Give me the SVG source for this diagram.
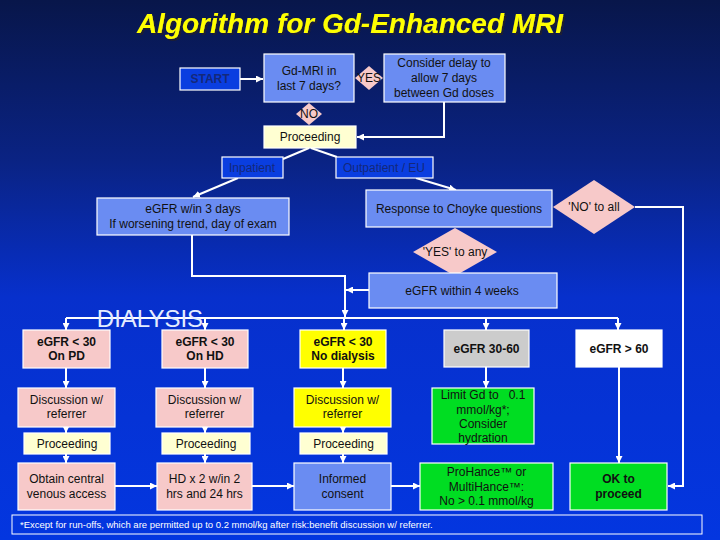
<svg xmlns="http://www.w3.org/2000/svg" width="720" height="540" viewBox="0 0 720 540">
<defs>
<linearGradient id="bg" x1="0" y1="0" x2="0" y2="1">
<stop offset="0" stop-color="#08164a"/>
<stop offset="0.3" stop-color="#0a2384"/>
<stop offset="0.55" stop-color="#0730cc"/>
<stop offset="1" stop-color="#0336e0"/>
</linearGradient>
<filter id="sh" x="-5%" y="-20%" width="110%" height="150%">
<feDropShadow dx="2" dy="2" stdDeviation="0.6" flood-color="#1a1a33" flood-opacity="0.9"/>
</filter>
<marker id="ah" viewBox="0 0 10 10" refX="10" refY="5" markerWidth="7" markerHeight="7" markerUnits="userSpaceOnUse" orient="auto">
<path d="M0,0 L10,5 L0,10 z" fill="#ffffff"/>
</marker>
<style>
text{font-family:"Liberation Sans",Arial,sans-serif;font-size:12px;fill:#111;text-anchor:middle;dominant-baseline:central}
.b{font-weight:bold}
.box{stroke:#ffffff;stroke-width:1.2}
.lb{fill:#6a8cf2}
.db{fill:#0a3ee0}
.pk{fill:#f7c9c9}
.yl{fill:#ffff00}
.cr{fill:#ffffd2}
.gr{fill:#00dd22}
.gy{fill:#cccccc}
.wh{fill:#ffffff}
.dm{fill:#f7c9c9;stroke:none}
.ln{fill:none;stroke:#ffffff;stroke-width:2}
.ar{marker-end:url(#ah)}
.dt{fill:#14287a}
</style>
</defs>
<rect width="720" height="540" fill="url(#bg)"/>
<text id="title" x="350" y="23" filter="url(#sh)" style="font-size:28px;font-weight:bold;font-style:italic;fill:#ffff00">Algorithm for Gd-Enhanced MRI</text>

<g id="connectors">
<path class="ln ar" d="M240,79 H263"/>
<path class="ln ar" d="M444,102 V137 H357"/>
<path class="ln" d="M309,148 L283,159"/>
<path class="ln" d="M311,148 L337,157"/>
<path class="ln ar" d="M238,178 L193,197"/>
<path class="ln ar" d="M416,178 L456,190"/>
<path class="ln ar" d="M635,207 H683 V486 H668"/>
<path class="ln ar" d="M369,290 H346"/>
<path class="ln ar" d="M192,235 V276 H345 V317"/>
<path class="ln" d="M66,318 H618"/>
<path class="ln ar" d="M66,318 V330"/>
<path class="ln ar" d="M205,318 V330"/>
<path class="ln ar" d="M344,318 V330"/>
<path class="ln ar" d="M486,318 V330"/>
<path class="ln ar" d="M618,318 V330"/>
<path class="ln ar" d="M66,368 V388"/>
<path class="ln ar" d="M66,427 V433"/>
<path class="ln ar" d="M66,454 V463"/>
<path class="ln ar" d="M205,368 V388"/>
<path class="ln ar" d="M205,427 V433"/>
<path class="ln ar" d="M205,454 V463"/>
<path class="ln ar" d="M343,368 V388"/>
<path class="ln ar" d="M343,427 V433"/>
<path class="ln ar" d="M343,454 V463"/>
<path class="ln ar" d="M486,367 V388"/>
<path class="ln ar" d="M619,367 V463"/>
<path class="ln ar" d="M115,486 H157"/>
<path class="ln ar" d="M252,486 H294"/>
<path class="ln ar" d="M391,486 H420"/>
</g>

<g id="start"><rect class="box db" x="180" y="68" width="60" height="22"/><text class="b dt" x="210" y="79">START</text></g>
<g id="gdmri"><rect class="box lb" x="264" y="54" width="90" height="48"/><text x="309" y="71">Gd-MRI in</text><text x="309" y="86">last 7 days?</text></g>
<g id="yes"><path class="dm" d="M369,66 L383,78 L369,90 L355,78 z"/><text x="369" y="78">YES</text></g>
<g id="delay"><rect class="box lb" x="384" y="54" width="121" height="48"/><text x="444" y="63">Consider delay to</text><text x="444" y="78">allow 7 days</text><text x="444" y="93">between Gd doses</text></g>
<g id="no"><path class="dm" d="M309,103 L322,114 L309,125 L296,114 z"/><text x="309" y="114">NO</text></g>
<g id="proceeding0"><rect class="box cr" x="264" y="126" width="92" height="22"/><text x="310" y="137">Proceeding</text></g>
<g id="inpatient"><rect class="box db" x="222" y="157" width="61" height="21"/><text class="dt" x="252" y="167.5">Inpatient</text></g>
<g id="outpatient"><rect class="box db" x="336" y="157" width="97" height="21"/><text class="dt" x="384" y="167.5">Outpatient / EU</text></g>
<g id="egfr3"><rect class="box lb" x="97" y="198" width="192" height="37"/><text x="193" y="209">eGFR w/in 3 days</text><text x="193" y="224">If worsening trend, day of exam</text></g>
<g id="choyke"><rect class="box lb" x="366" y="190" width="186" height="37"/><text x="459" y="208.5">Response to Choyke questions</text></g>
<g id="noall"><path class="dm" d="M594,180 L635,207 L594,234 L553,207 z"/><text x="594" y="207">'NO' to all</text></g>
<g id="yesany"><path class="dm" d="M455,228 L497,252 L455,276 L413,252 z"/><text x="455" y="252">'YES' to any</text></g>
<g id="egfr4w"><rect class="box lb" x="369" y="273" width="188" height="35"/><text x="462" y="290.5">eGFR within 4 weeks</text></g>
<text id="dialysis" x="150" y="318" style="font-size:24px;fill:#e4ecff">DIALYSIS</text>

<g id="pd"><rect class="box pk" x="23" y="330" width="87" height="38"/><text class="b" x="66.5" y="342">eGFR &lt; 30</text><text class="b" x="66.5" y="356">On PD</text></g>
<g id="hd"><rect class="box pk" x="162" y="330" width="86" height="38"/><text class="b" x="205" y="342">eGFR &lt; 30</text><text class="b" x="205" y="356">On HD</text></g>
<g id="nodial"><rect class="box yl" x="300" y="330" width="86" height="38"/><text class="b" x="343" y="342">eGFR &lt; 30</text><text class="b" x="343" y="356">No dialysis</text></g>
<g id="e3060"><rect class="box gy" x="444" y="330" width="85" height="37"/><text class="b" x="486.5" y="348.5">eGFR 30-60</text></g>
<g id="e60"><rect class="box wh" x="576" y="330" width="86" height="37"/><text class="b" x="619" y="348.5">eGFR &gt; 60</text></g>

<g id="disc1"><rect class="box pk" x="18" y="388" width="97" height="39"/><text x="66.5" y="400">Discussion w/</text><text x="66.5" y="414">referrer</text></g>
<g id="disc2"><rect class="box pk" x="156" y="388" width="97" height="39"/><text x="204.5" y="400">Discussion w/</text><text x="204.5" y="414">referrer</text></g>
<g id="disc3"><rect class="box yl" x="294" y="388" width="97" height="39"/><text x="342.5" y="400">Discussion w/</text><text x="342.5" y="414">referrer</text></g>
<g id="limit"><rect class="box gr" x="432" y="388" width="102" height="56"/><text x="483" y="395" style="white-space:pre">Limit Gd to   0.1</text><text x="483" y="410">mmol/kg*;</text><text x="483" y="424">Consider</text><text x="483" y="438">hydration</text></g>

<g id="proc1"><rect class="box cr" x="24" y="433" width="86" height="21"/><text x="67" y="443.5">Proceeding</text></g>
<g id="proc2"><rect class="box cr" x="162" y="433" width="88" height="21"/><text x="206" y="443.5">Proceeding</text></g>
<g id="proc3"><rect class="box cr" x="300" y="433" width="87" height="21"/><text x="343.5" y="443.5">Proceeding</text></g>

<g id="central"><rect class="box pk" x="18" y="463" width="97" height="47"/><text x="66.5" y="479">Obtain central</text><text x="66.5" y="494">venous access</text></g>
<g id="hdx2"><rect class="box pk" x="157" y="463" width="95" height="47"/><text x="204.5" y="479">HD x 2 w/in 2</text><text x="204.5" y="494">hrs and 24 hrs</text></g>
<g id="consent"><rect class="box lb" x="294" y="463" width="97" height="47"/><text x="342.5" y="479">Informed</text><text x="342.5" y="494">consent</text></g>
<g id="prohance"><rect class="box gr" x="420" y="463" width="133" height="47"/><text x="486.5" y="472">ProHance™ or</text><text x="486.5" y="487">MultiHance™:</text><text x="486.5" y="501">No &gt; 0.1 mmol/kg</text></g>
<g id="ok"><rect class="box gr" x="570" y="463" width="97" height="47"/><text class="b" x="618.5" y="479">OK to</text><text class="b" x="618.5" y="494">proceed</text></g>

<g id="footnote"><rect x="12" y="515" width="690" height="19" fill="none" stroke="#ffffff" stroke-width="1"/><text x="20" y="524.5" style="font-size:9.5px;fill:#ffffff;text-anchor:start">*Except for run-offs, which are permitted up to 0.2 mmol/kg after risk:benefit discussion w/ referrer.</text></g>
</svg>
